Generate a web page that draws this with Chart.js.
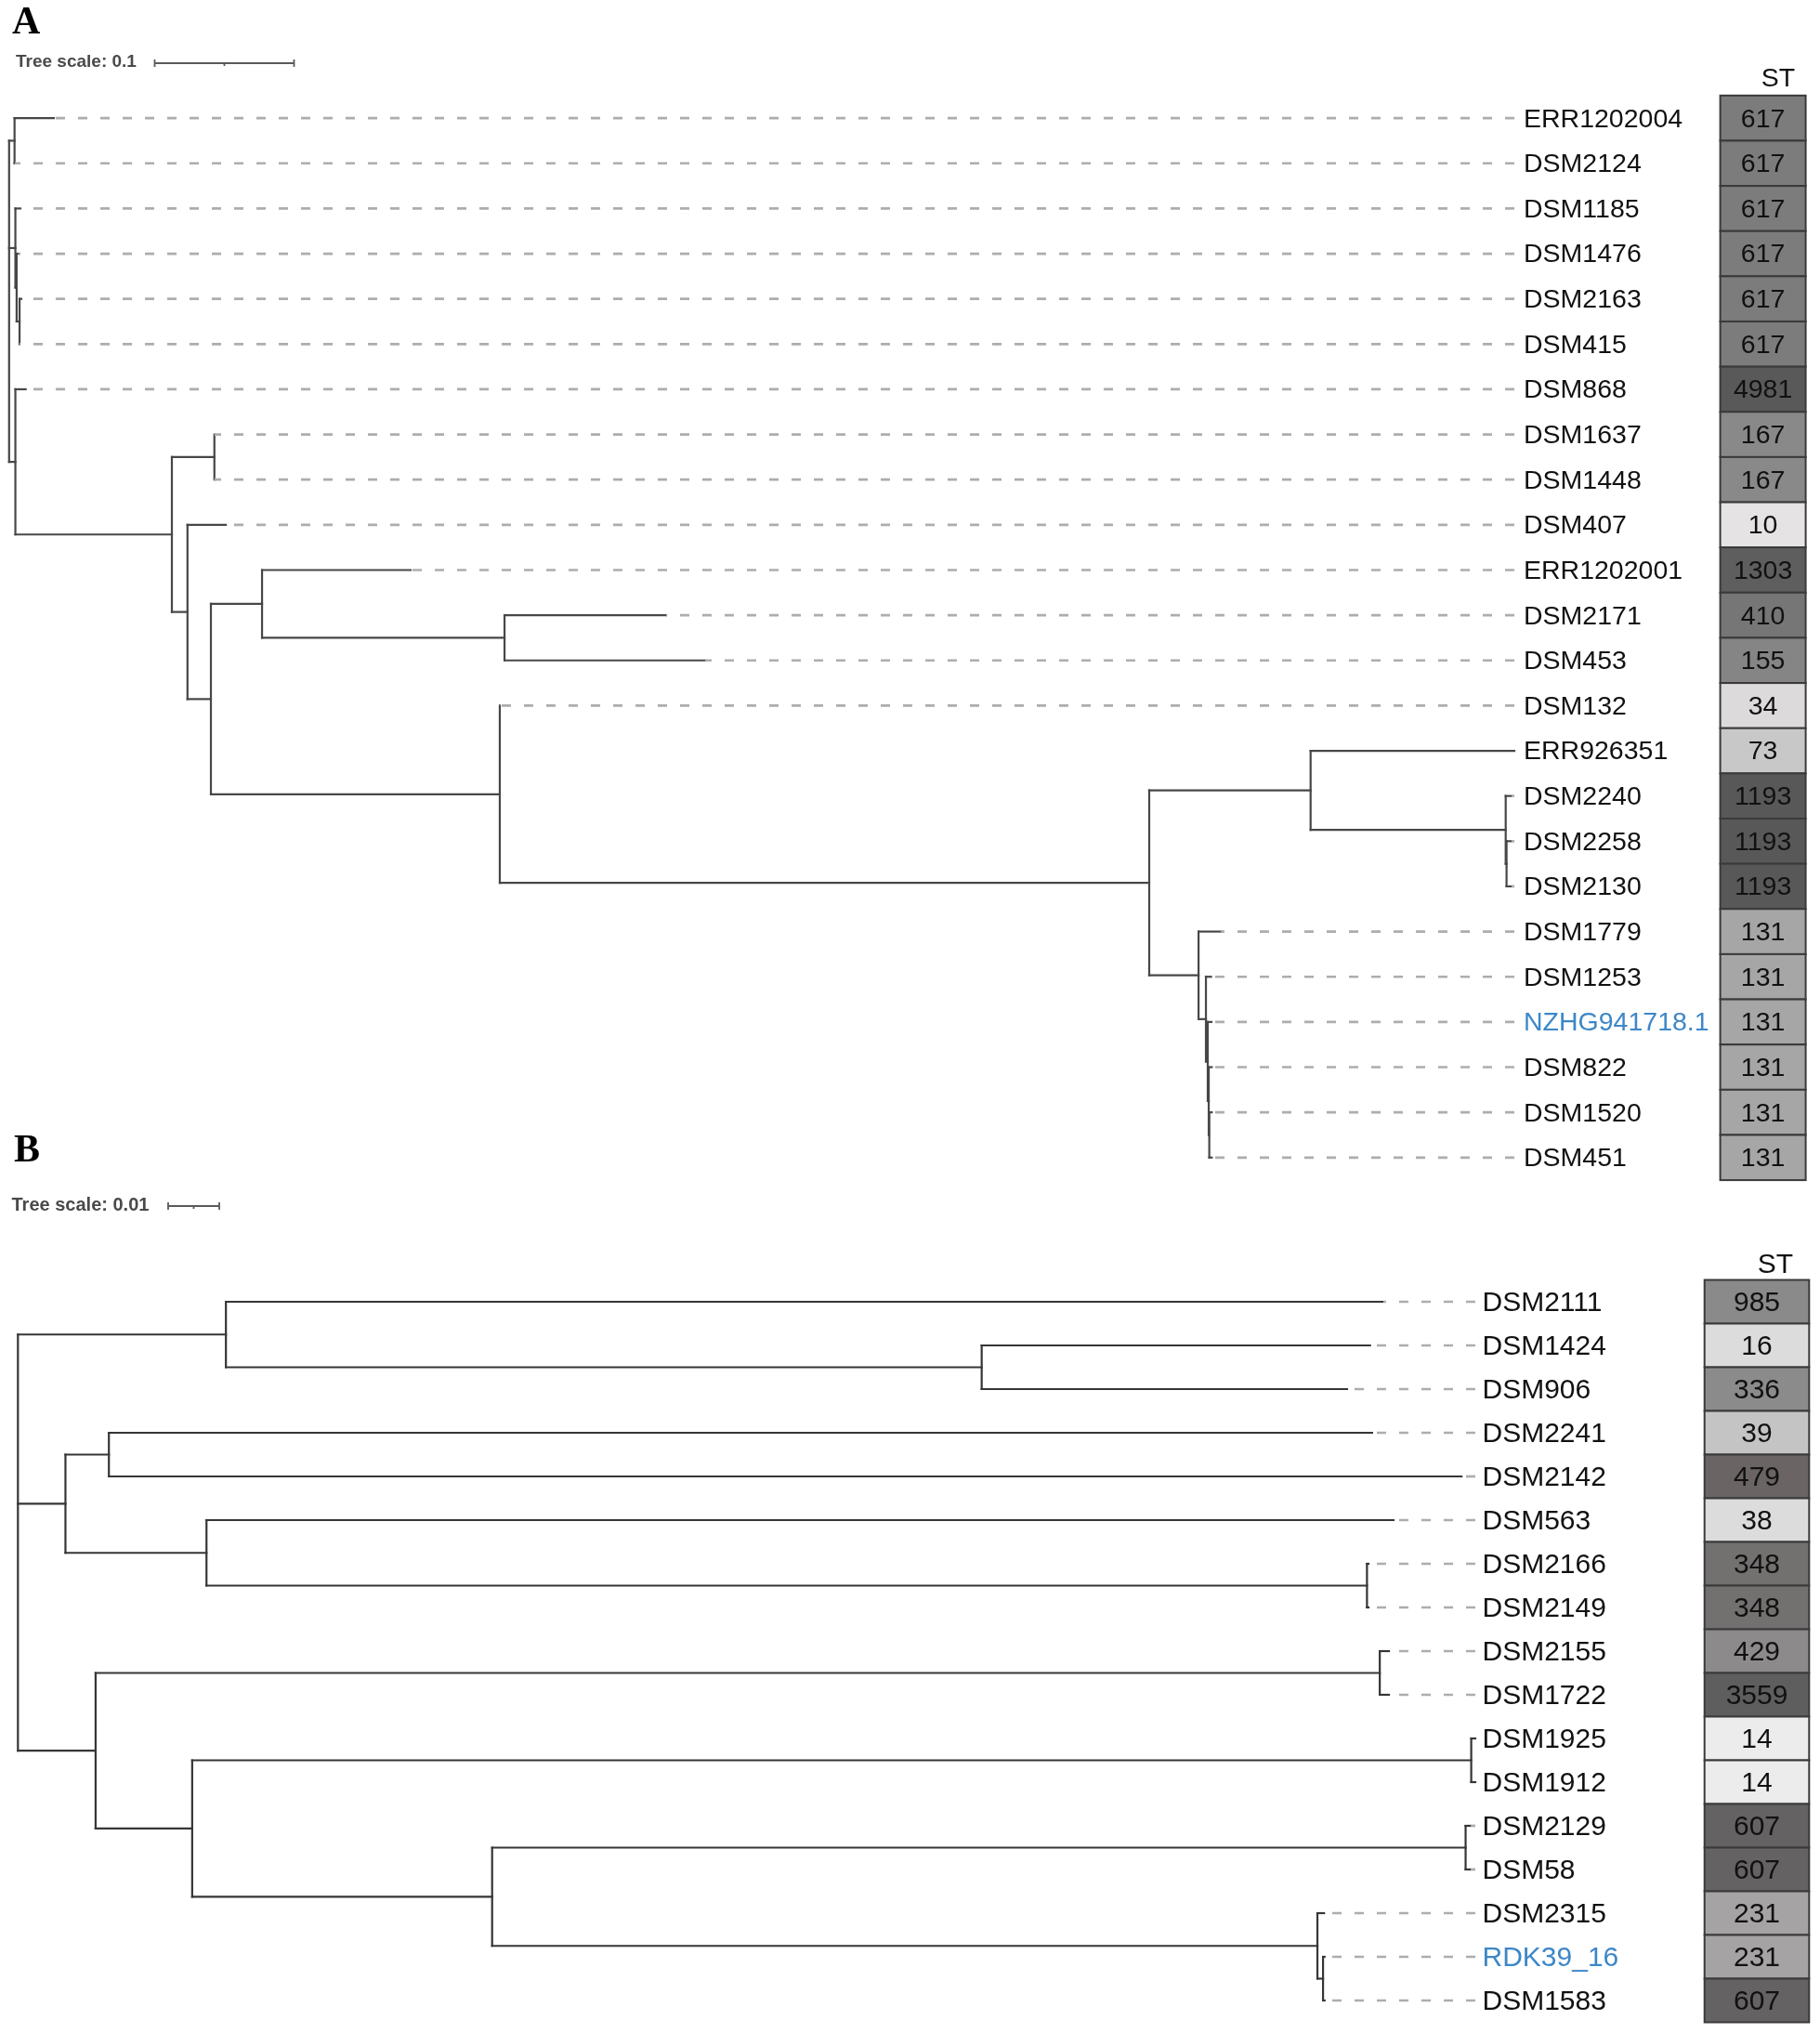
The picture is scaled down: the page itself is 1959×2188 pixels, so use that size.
<!DOCTYPE html>
<html>
<head>
<meta charset="utf-8">
<script src="https://cdn.jsdelivr.net/npm/chart.js@4.4.0/dist/chart.umd.min.js"></script>
<style>
  body { margin: 0; background: #fff; }
  #wrap { position: relative; width: 1959px; height: 2188px; }
  canvas { position: absolute; left: 0; }
  #treeA { top: 0; }
  #treeB { top: 1200px; }
</style>
</head>
<body>
<div id="wrap">
  <canvas id="treeA" width="1959" height="1280"></canvas>
  <canvas id="treeB" width="1959" height="988"></canvas>
</div>
<script>
// ---- panel A (tree scale 0.1) ----
const leavesA = ['ERR1202004', 'DSM2124', 'DSM1185', 'DSM1476', 'DSM2163', 'DSM415', 'DSM868',
  'DSM1637', 'DSM1448', 'DSM407', 'ERR1202001', 'DSM2171', 'DSM453', 'DSM132', 'ERR926351',
  'DSM2240', 'DSM2258', 'DSM2130', 'DSM1779', 'DSM1253', 'NZHG941718.1', 'DSM822', 'DSM1520', 'DSM451'];
const stA = ['617', '617', '617', '617', '617', '617', '4981', '167', '167', '10', '1303', '410',
  '155', '34', '73', '1193', '1193', '1193', '131', '131', '131', '131', '131', '131'];
// tip depth of each leaf (substitutions / site)
const tipsA = [0.0321, 0.0041, 0.0081, 0.0068, 0.0088, 0.0075, 0.0119, 0.1473, 0.1473, 0.1555,
  0.2881, 0.4715, 0.4995, 0.3521, 1.0801, 1.0781, 1.0781, 1.0781, 0.8695, 0.8625, 0.8628,
  0.8630, 0.8630, 0.8630];
// internal nodes: [depth, children]  (number = leaf index, 'nK' = node K)
const nodesA = [
  [0, ['n1', 'n2', 'n5']],
  [0.0039, [0, 1]],
  [0.0045, [2, 'n3']],
  [0.0054, [3, 'n4']],
  [0.0075, [4, 5]],
  [0.0045, [6, 'n6']],
  [0.1168, ['n7', 'n8']],
  [0.1473, [7, 8]],
  [0.1280, [9, 'n9']],
  [0.1448, ['n10', 'n12']],
  [0.1815, [10, 'n11']],
  [0.3555, [11, 12]],
  [0.3521, [13, 'n13']],
  [0.8181, ['n14', 'n17']],
  [0.9339, [14, 'n15']],
  [1.0739, [15, 'n16']],
  [1.0745, [16, 17]],
  [0.8535, [18, 'n18']],
  [0.8588, [19, 'n19']],
  [0.8601, [20, 'n20']],
  [0.8608, [21, 'n21']],
  [0.8612, [22, 23]]
];
const alignA = 1.0801;

// ---- panel B (tree scale 0.01) ----
const leavesB = ['DSM2111', 'DSM1424', 'DSM906', 'DSM2241', 'DSM2142', 'DSM563', 'DSM2166', 'DSM2149',
  'DSM2155', 'DSM1722', 'DSM1925', 'DSM1912', 'DSM2129', 'DSM58', 'DSM2315', 'RDK39_16', 'DSM1583'];
const stB = ['985', '16', '336', '39', '479', '38', '348', '348', '429', '3559', '14', '14',
  '607', '607', '231', '231', '607'];
const tipsB = [0.2672, 0.2646, 0.2601, 0.2650, 0.2825, 0.2692, 0.2643, 0.2643, 0.2683, 0.2683,
  0.2852, 0.2852, 0.2843, 0.2843, 0.2556, 0.2557, 0.2557];
const nodesB = [
  [0, ['n1', 'n3', 'n7']],
  [0.0407, [0, 'n2']],
  [0.1886, [1, 2]],
  [0.0093, ['n4', 'n5']],
  [0.0178, [3, 4]],
  [0.0369, [5, 'n6']],
  [0.2640, [6, 7]],
  [0.0152, ['n8', 'n9']],
  [0.2665, [8, 9]],
  [0.0341, ['n10', 'n11']],
  [0.2844, [10, 11]],
  [0.0928, ['n12', 'n13']],
  [0.2833, [12, 13]],
  [0.2543, [14, 'n14']],
  [0.2554, [15, 16]]
];
const alignB = 0.2852;

const highlighted = ['NZHG941718.1', 'RDK39_16'];

// ST cell shading
const shade = {
  '617': '#7c7c7c', '4981': '#595959', '167': '#898989', '10': '#e5e3e3', '1303': '#5e5e5e',
  '410': '#767676', '155': '#858585', '34': '#dcdada', '73': '#c8c8c8', '1193': '#585858',
  '131': '#a6a6a6', '985': '#8a8a8a', '16': '#dcdcdc', '336': '#8b8b8b', '39': '#c4c4c4',
  '479': '#6a6464', '38': '#dcdcdc', '348': '#737070', '429': '#8c8a8a', '3559': '#5e5e5e',
  '14': '#ececec', '607': '#646262', '231': '#a5a3a3'
};

function buildTree(nodes, tips, align) {
  const ys = {};
  const nodeY = k => {
    if (typeof k === 'number') return k;
    const i = +k.slice(1);
    if (ys[i] === undefined) {
      const kids = nodes[i][1];
      ys[i] = (nodeY(kids[0]) + nodeY(kids[kids.length - 1])) / 2;
    }
    return ys[i];
  };
  const depth = k => typeof k === 'number' ? tips[k] : nodes[+k.slice(1)][0];
  const solid = [], dashed = [];
  nodes.forEach(n => {
    const kids = n[1];
    solid.push([{ x: n[0], y: nodeY(kids[0]) }, { x: n[0], y: nodeY(kids[kids.length - 1]) }]);
    kids.forEach(k => {
      if (depth(k) > n[0]) solid.push([{ x: n[0], y: nodeY(k) }, { x: depth(k), y: nodeY(k) }]);
    });
  });
  // dashes run from the label column back to the tip
  tips.forEach((t, i) => {
    if (align - t > 0.0004) dashed.push([{ x: align, y: i }, { x: t, y: i }]);
  });
  return { solid, dashed };
}

function decor(o) {
  return {
    id: 'decor',
    afterDraw(chart) {
      const ctx = chart.ctx, xs = chart.scales.x, ys = chart.scales.y;
      ctx.save();
      // panel letter
      ctx.fillStyle = '#000';
      ctx.textBaseline = 'alphabetic';
      ctx.textAlign = 'left';
      ctx.font = 'bold 42px "Liberation Serif"';
      ctx.fillText(o.letter, o.letterX, o.letterY);

      // tree scale
      ctx.font = 'bold ' + o.scaleFont + 'px "Liberation Sans"';
      ctx.fillStyle = '#4a4a4a';
      ctx.textBaseline = 'middle';
      ctx.fillText(o.scaleText, o.scaleTextX, o.scaleY);
      const len = xs.getPixelForValue(o.scaleLen) - xs.getPixelForValue(0);
      const bx = o.barX, by = o.scaleY + 1;
      ctx.strokeStyle = '#5a5a5a';
      ctx.lineWidth = 1.8;
      ctx.beginPath();
      ctx.moveTo(bx, by); ctx.lineTo(bx + len, by);
      ctx.moveTo(bx, by - 4); ctx.lineTo(bx, by + 4);
      ctx.moveTo(bx + len, by - 4); ctx.lineTo(bx + len, by + 4);
      ctx.moveTo(bx + len / 2, by); ctx.lineTo(bx + len / 2, by + 3);
      ctx.stroke();

      // leaf labels
      ctx.textBaseline = 'alphabetic';
      ctx.font = o.fs + 'px "Liberation Sans"';
      o.leaves.forEach((name, i) => {
        const py = ys.getPixelForValue(i);
        ctx.fillStyle = highlighted.includes(name) ? '#3d87c7' : '#111';
        ctx.fillText(name, o.labelX, py + o.fs * 0.33);
      });

      // ST column
      const h = ys.getPixelForValue(1) - ys.getPixelForValue(0);
      ctx.textAlign = 'center';
      ctx.fillStyle = '#111';
      ctx.fillText('ST', o.stHeadX, o.stHeadY);
      o.st.forEach((v, i) => {
        const py = ys.getPixelForValue(i);
        ctx.fillStyle = shade[v];
        ctx.fillRect(o.boxX, py - h / 2, o.boxW, h);
        ctx.strokeStyle = '#3a3a3a';
        ctx.lineWidth = 2;
        ctx.strokeRect(o.boxX, py - h / 2, o.boxW, h);
        ctx.fillStyle = '#111';
        ctx.fillText(v, o.boxX + o.boxW / 2, py + o.fs * 0.33);
      });
      ctx.restore();
    }
  };
}

function makeChart(id, tree, o) {
  const ds = [];
  tree.dashed.forEach(d => ds.push({
    data: d, showLine: true, pointRadius: 0, clip: false,
    borderColor: '#adadad', borderWidth: 2.7, borderDash: [10, 14], borderCapStyle: 'butt'
  }));
  tree.solid.forEach(d => ds.push({
    data: d, showLine: true, pointRadius: 0, clip: false,
    borderColor: o.lineColor, borderWidth: 2.2, borderCapStyle: 'square'
  }));
  return new Chart(document.getElementById(id), {
    type: 'scatter',
    data: { datasets: ds },
    options: {
      responsive: false,
      animation: false,
      devicePixelRatio: 1,
      events: [],
      layout: { padding: o.pad },
      scales: {
        x: { type: 'linear', display: false, min: 0, max: o.align },
        y: { type: 'linear', display: false, min: -0.5, max: o.leaves.length - 0.5, reverse: true }
      },
      plugins: { legend: { display: false }, tooltip: { enabled: false } }
    },
    plugins: [decor(o)]
  });
}

makeChart('treeA', buildTree(nodesA, tipsA, alignA), {
  align: alignA, leaves: leavesA, st: stA, lineColor: '#474747',
  pad: { left: 9.8, right: 329, top: 102.8, bottom: 9.9 },
  letter: 'A', letterX: 13, letterY: 36,
  scaleText: 'Tree scale: 0.1', scaleFont: 19, scaleTextX: 17, scaleY: 67, barX: 166.5, scaleLen: 0.1,
  fs: 28.5, labelX: 1640, boxX: 1851.6, boxW: 92, stHeadX: 1914, stHeadY: 93
});

makeChart('treeB', buildTree(nodesB, tipsB, alignB), {
  align: alignB, leaves: leavesB, st: stB, lineColor: '#363636',
  pad: { left: 19.3, right: 371, top: 177.5, bottom: 11.5 },
  letter: 'B', letterX: 15, letterY: 50,
  scaleText: 'Tree scale: 0.01', scaleFont: 20, scaleTextX: 12.5, scaleY: 97, barX: 181, scaleLen: 0.01,
  fs: 30, labelX: 1595.5, boxX: 1834.7, boxW: 112.6, stHeadX: 1911, stHeadY: 170
});
</script>
</body>
</html>
